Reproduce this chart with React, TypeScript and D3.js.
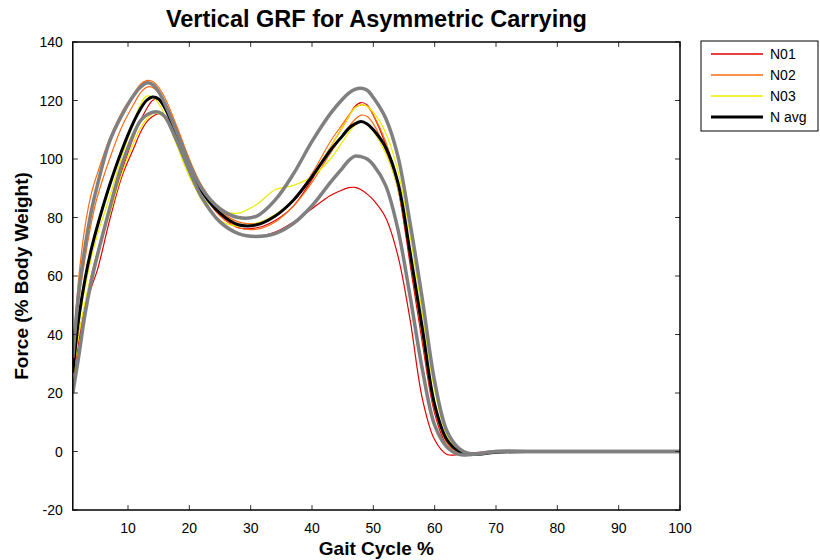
import React from 'react';
import * as d3 from 'd3';

// gait cycle sample points (%)
const gait = [1, 2, 3, 4, 5, 7, 9, 11, 12, 13, 14, 15, 16, 18, 20, 22, 25, 28, 31, 34, 37, 40, 43, 45, 46, 47, 48, 49, 50, 52, 54, 56, 58, 60, 62, 64, 66, 70, 75, 80, 90, 100];

// subject trials (% body weight)
const n01a = [25, 40, 50, 60, 68, 82, 96, 108, 113, 117, 120, 120.5, 119, 110, 99, 90, 81, 76.5, 76.5, 79, 84, 93, 104, 111, 114.5, 118, 119.3, 118.5, 115, 105, 90, 64, 37, 13, 2, -1, -1, 0, 0, 0, 0, 0];
const n01b = [22, 38, 48, 56, 62, 79, 94, 104, 109, 112.5, 114.5, 115.5, 115, 107, 96, 87, 78.5, 74.5, 73.5, 75, 78.5, 83, 87.5, 89.5, 90.2, 90.3, 89.5, 88, 86, 80, 67, 45, 18, 4, -1, -1, -0.5, 0, 0, 0, 0, 0];
const n02a = [33, 60, 77, 88, 95, 107, 116, 122.5, 125.5, 126.8, 126.5, 124.5, 121, 111, 100, 91, 82.5, 78.5, 78, 80.5, 86, 95, 106, 112, 115, 117.5, 118.5, 118, 115, 106, 91, 66, 39, 14, 3, -1, -1, 0, 0, 0, 0, 0];
const n02b = [30, 52, 66, 78, 87, 100, 111, 119, 122.5, 124.5, 124.5, 122.5, 119, 109, 98, 89, 80.5, 76.5, 76, 78.5, 84, 92, 102, 108, 111, 113.5, 115, 114.5, 112, 103, 90, 67, 40, 15, 3, -0.5, -1, 0, 0, 0, 0, 0];
const n03a = [26, 44, 56, 66, 74, 87, 101, 113, 118.5, 121.5, 121.2, 119, 115, 104.5, 94, 87, 82.5, 81.5, 84.5, 89.5, 91, 94, 100, 106, 109, 111.5, 112.5, 112, 109.5, 102, 90, 68, 42, 17, 4, 0, -1, 0, 0, 0, 0, 0];
const n03b = [24, 40, 51, 60, 68, 81, 95, 106, 110.5, 113.5, 115.5, 115.5, 114, 106, 95, 86, 79, 77, 78, 81, 86, 94, 104, 111, 114.5, 117.5, 118.5, 118, 116, 109, 96, 74, 47, 21, 5.5, 0, -1, 0, 0, 0, 0, 0];

// mean and mean +/- SD
const nAvg = [27, 46, 59, 69, 77, 91, 103, 113, 117, 120, 121.2, 120.5, 117.5, 108, 97, 89, 81.5, 77.5, 77.5, 80.5, 86, 94, 103, 108, 110.5, 112, 112.8, 112, 110, 104, 92, 68, 42, 16, 4, 0, -1, -0.3, 0, 0, 0, 0];
const nUpper = [32, 55, 70, 82, 91, 106, 115, 122, 124.5, 126, 125.5, 123, 119, 109, 98.5, 90, 83, 80, 80.5, 86, 95, 106, 115.5, 120.5, 122.5, 123.8, 124.2, 123.5, 121, 114, 101, 78, 52, 24, 7, 1, -0.8, 0, 0, 0, 0, 0];
const nLower = [20, 33, 47, 58, 67, 83, 98, 109, 113, 115, 116, 116, 114.5, 106, 96, 87, 78.5, 74.5, 73.5, 74.5, 78, 84, 92, 97, 99.5, 101, 100.8, 100, 98, 91, 76, 53, 28, 9, 1.5, -1, -1, 0, 0, 0, 0, 0];

const xTicks = [10, 20, 30, 40, 50, 60, 70, 80, 90, 100];
const yTicks = [-20, 0, 20, 40, 60, 80, 100, 120, 140];

const legendNames = ['N01', 'N02', 'N03', 'N avg'];
const legendColors = ['#e00000', '#ff6a10', '#ecec00', '#000000'];

const W = 820;
const H = 560;
const margin = { top: 42, right: 140, bottom: 50, left: 72.8 };
const FONT = "'Liberation Sans', Arial, sans-serif";

export default function App() {
  const x = d3.scaleLinear().domain([1, 100]).range([margin.left, W - margin.right]);
  const y = d3.scaleLinear().domain([-20, 140]).range([H - margin.bottom, margin.top]);

  const line = d3.line<number>()
    .x((_, i) => x(gait[i]))
    .y(d => y(d))
    .curve(d3.curveCatmullRom.alpha(0.5));

  const trials = [
    { v: n01a, c: legendColors[0] },
    { v: n01b, c: legendColors[0] },
    { v: n02a, c: legendColors[1] },
    { v: n02b, c: legendColors[1] },
    { v: n03a, c: legendColors[2] },
    { v: n03b, c: legendColors[2] },
  ];

  const x0 = x.range()[0];
  const x1 = x.range()[1];
  const y0 = y.range()[0];
  const y1 = y.range()[1];
  const tick = 5;

  const lx = 701;
  const ly = 41;

  return (
    <svg width={W} height={H} style={{ position: 'absolute', left: 0, top: 0, background: '#fff' }} fontFamily={FONT}>
      <rect width={W} height={H} fill="#fff" />
      <defs>
        <clipPath id="plot">
          <rect x={x0} y={y1} width={x1 - x0} height={y0 - y1} />
        </clipPath>
      </defs>

      <g clipPath="url(#plot)" fill="none">
        {trials.map((t, i) => (
          <path key={i} d={line(t.v) || ''} stroke={t.c} strokeWidth={1.2} />
        ))}
        <path d={line(nAvg) || ''} stroke="#000" strokeWidth={3} />
        <path d={line(nUpper) || ''} stroke="#808080" strokeWidth={3.5} />
        <path d={line(nLower) || ''} stroke="#808080" strokeWidth={3.5} />
      </g>

      {/* ticks, inward on all sides */}
      <g stroke="#333" strokeWidth={1}>
        {xTicks.map(t => (
          <g key={t}>
            <line x1={x(t)} x2={x(t)} y1={y0} y2={y0 - tick} />
            <line x1={x(t)} x2={x(t)} y1={y1} y2={y1 + tick} />
          </g>
        ))}
        {yTicks.map(t => (
          <g key={t}>
            <line x1={x0} x2={x0 + tick} y1={y(t)} y2={y(t)} />
            <line x1={x1} x2={x1 - tick} y1={y(t)} y2={y(t)} />
          </g>
        ))}
      </g>
      <rect x={x0} y={y1} width={x1 - x0} height={y0 - y1} fill="none" stroke="#000" strokeWidth={1.5} />

      <g fontSize={14} fill="#000">
        {xTicks.map(t => (
          <text key={t} x={x(t)} y={y0 + 23} textAnchor="middle">{t}</text>
        ))}
        {yTicks.map(t => (
          <text key={t} x={x0 - 10} y={y(t) + 5} textAnchor="end">{t}</text>
        ))}
      </g>

      <text x={(x0 + x1) / 2} y={27} textAnchor="middle" fontSize={23.5} fontWeight="bold">Vertical GRF for Asymmetric Carrying</text>
      <text x={(x0 + x1) / 2} y={555} textAnchor="middle" fontSize={19} fontWeight="bold">Gait Cycle %</text>
      <text transform={`translate(28,${(y0 + y1) / 2}) rotate(-90)`} textAnchor="middle" fontSize={19} fontWeight="bold">Force (% Body Weight)</text>

      <g>
        <rect x={lx} y={ly} width={117} height={90} fill="#fff" stroke="#000" strokeWidth={1} />
        {legendNames.map((n, i) => (
          <g key={n} transform={`translate(${lx},${ly + 13 + i * 21})`}>
            <line x1={10} x2={62} y1={0} y2={0} stroke={legendColors[i]} strokeWidth={i === 3 ? 3 : 1.5} />
            <text x={69} y={5} fontSize={14}>{n}</text>
          </g>
        ))}
      </g>
    </svg>
  );
}
